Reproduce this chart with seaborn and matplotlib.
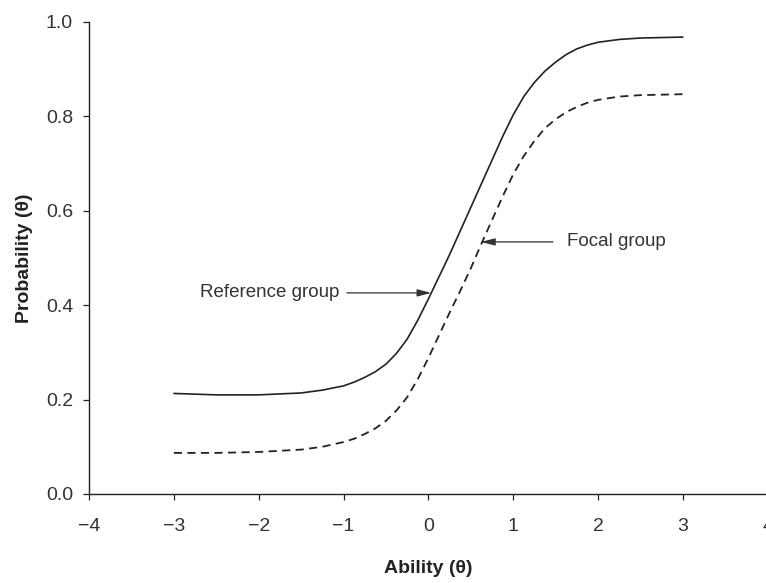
import matplotlib
matplotlib.use("Agg")
import matplotlib.pyplot as plt
import pandas as pd
import seaborn as sns

# valores (curvas características do item)
theta = [-3.0, -2.5, -2.0, -1.5, -1.25, -1.0, -0.875, -0.75, -0.625, -0.5,
         -0.375, -0.25, -0.125, 0.0, 0.125, 0.25, 0.375, 0.5, 0.625, 0.75,
         0.875, 1.0, 1.125, 1.25, 1.375, 1.5, 1.625, 1.75, 1.875, 2.0,
         2.25, 2.5, 2.75, 3.0]
p_referencia = [0.213, 0.210, 0.210, 0.214, 0.220, 0.229, 0.237, 0.247, 0.259, 0.275,
                0.298, 0.328, 0.368, 0.413, 0.460, 0.507, 0.557, 0.607, 0.657, 0.707,
                0.757, 0.803, 0.842, 0.872, 0.896, 0.915, 0.931, 0.943, 0.951, 0.957,
                0.963, 0.966, 0.967, 0.968]
p_focal = [0.087, 0.087, 0.089, 0.094, 0.100, 0.110, 0.117, 0.127, 0.139, 0.155,
           0.177, 0.205, 0.243, 0.288, 0.336, 0.384, 0.430, 0.478, 0.530, 0.580,
           0.630, 0.677, 0.716, 0.748, 0.775, 0.794, 0.809, 0.820, 0.829, 0.835,
           0.842, 0.845, 0.846, 0.847]
xticks = [-4, -3, -2, -1, 0, 1, 2, 3, 4]
yticks = [0.0, 0.2, 0.4, 0.6, 0.8, 1.0]

sns.set_theme(style="ticks")
plt.rcParams["font.family"] = ["Liberation Sans", "DejaVu Sans"]

df = pd.DataFrame({"theta": theta, "ref": p_referencia, "focal": p_focal})

fig = plt.figure(figsize=(7.66, 5.83), dpi=100)
ax = fig.add_axes([0.1162, 0.1527, 0.886, 0.8096])

sns.lineplot(data=df, x="theta", y="ref", ax=ax, color="#222222", linewidth=1.2)
sns.lineplot(data=df, x="theta", y="focal", ax=ax, color="#222222", linewidth=1.3,
             linestyle=(0, (4.5, 3)))

ax.set_xlim(-4, 4)
ax.set_ylim(0, 1)
ax.set_xticks(xticks)
ax.set_yticks(yticks)
ax.set_yticklabels([f"{v:.1f}" for v in yticks])
ax.tick_params(axis="both", labelsize=14, length=4.5, width=0.9, colors="#222222",
               labelcolor="#333333")
ax.tick_params(axis="x", pad=13)
ax.tick_params(axis="y", pad=7)
for s in ("left", "bottom"):
    ax.spines[s].set_linewidth(1.0)
    ax.spines[s].set_color("#222222")
sns.despine(ax=ax)

ax.set_xlabel("Ability (θ)", fontsize=14, fontweight="bold", labelpad=18,
              color="#222222")
ax.set_ylabel("Probability (θ)", fontsize=14, fontweight="bold", labelpad=9,
              color="#222222")

# rótulos e setas horizontais
seta = dict(arrowstyle="-|>,head_length=0.7,head_width=0.18", color="#333333",
            linewidth=0.9, shrinkA=0, shrinkB=0)
ax.text(-1.05, 0.426, "Reference group", ha="right", va="center",
        fontsize=13.5, color="#333333")
ax.annotate("", xy=(0.035, 0.426), xytext=(-0.96, 0.426), arrowprops=seta)
ax.text(1.64, 0.534, "Focal group", ha="left", va="center",
        fontsize=13.5, color="#333333")
ax.annotate("", xy=(0.62, 0.534), xytext=(1.47, 0.534), arrowprops=seta)

fig.savefig("out.png", dpi=100)
